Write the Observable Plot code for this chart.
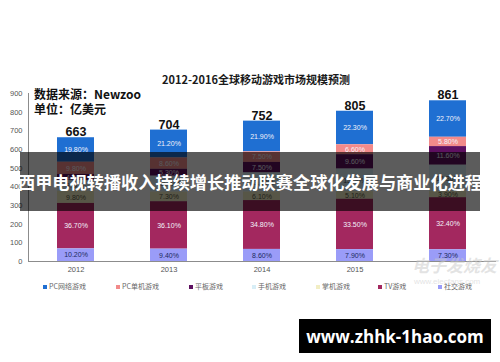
<!DOCTYPE html>
<html><head><meta charset="utf-8">
<script src="https://cdn.jsdelivr.net/npm/d3@7"></script>
<script src="https://cdn.jsdelivr.net/npm/@observablehq/plot@0.6"></script>
<style>
body{margin:0;background:#fff;}
#wrap{position:relative;width:500px;height:362px;overflow:hidden;font-family:"Liberation Sans","Noto Sans CJK SC",sans-serif;background:#fff;}
#wrap svg{position:absolute;left:0;top:0;}
.abs{position:absolute;white-space:nowrap;line-height:1;}
.title{left:162px;top:74px;font-size:11px;font-weight:bold;color:#1a1a1a;font-family:"Noto Sans CJK SC",sans-serif;}
.src{left:34px;font-size:12px;font-weight:bold;color:#111;font-family:"Noto Sans CJK SC",sans-serif;}
.leg{top:283px;font-size:7px;color:#666;font-family:"Noto Sans CJK SC",sans-serif;display:flex;align-items:center;}
.leg i{display:inline-block;width:4px;height:4px;margin-right:2px;}
.banner{left:20px;top:152px;width:460px;height:59px;background:rgba(0,0,0,0.64);color:#fff;font-family:"Noto Sans CJK SC",sans-serif;font-weight:bold;font-size:17.2px;display:flex;align-items:center;justify-content:center;}
.wm{left:299px;top:319px;width:192px;height:34px;background:#000;color:#fff;font-family:"Open Sans","DejaVu Sans",sans-serif;font-weight:bold;font-size:17px;display:flex;align-items:center;justify-content:center;}
.ef{color:rgba(200,200,200,0.5);font-family:"Noto Sans CJK SC",sans-serif;}
</style></head><body><div id="wrap"></div>
<script>
const years = ["2012","2013","2014","2015","2016"];
const totals = [663, 704, 752, 805, 861];
const categories = ["PC网络游戏","PC单机游戏","平板游戏","手机游戏","掌机游戏","TV游戏","社交游戏"];
const colors = ["#1f6fd2","#f28a8a","#5e1060","#d8eef6","#f2eec4","#a3285f","#9a9cf8"];
const pcOnline = [19.8, 21.2, 21.9, 22.3, 22.7];
const pcSingle = [9.8, 8.6, 7.5, 6.6, 5.8];
const tablet = [4.9, 5.3, 7.5, 9.6, 11.6];
const phone = [8.8, 12.1, 13.6, 15.0, 16.3];
const handheld = [9.8, 7.3, 6.1, 5.1, 3.9];
const tv = [36.7, 36.1, 34.8, 33.5, 32.4];
const social = [10.2, 9.4, 8.6, 7.9, 7.3];
const yTicks = [0,100,200,300,400,500,600,700,800,900];

const series = [pcOnline, pcSingle, tablet, phone, handheld, tv, social];
const rows = [];
years.forEach((yr, i) => {
  categories.forEach((c, k) => {
    rows.push({year: yr, cat: c, share: series[k][i], value: totals[i] * series[k][i] / 100});
  });
});
const totRows = years.map((yr, i) => ({year: yr, total: totals[i]}));
const stackOrder = categories.slice().reverse();
const fmt = d => d.share.toFixed(2) + "%";
const labelGroups = [
  {cats: ["PC网络游戏","PC单机游戏","平板游戏","TV游戏"], fill: "#f2f2fa"},
  {cats: ["手机游戏"], fill: "#555"},
  {cats: ["掌机游戏"], fill: "#5a5a4a"},
  {cats: ["社交游戏"], fill: "#1c2a5e"}
];

const font = '"Liberation Sans","Noto Sans CJK SC",sans-serif';
const chart = Plot.plot({
  width: 500, height: 362,
  marginTop: 93, marginBottom: 101, marginLeft: 28, marginRight: 4,
  x: {domain: years, paddingInner: 0.6, paddingOuter: 0.3, label: null},
  y: {domain: [0, 900], label: null},
  color: {domain: categories, range: colors},
  style: {fontFamily: font, background: "transparent", overflow: "visible"},
  marks: [
    Plot.barY(rows, Plot.stackY({x: "year", y: "value", fill: "cat", order: stackOrder})),
    ...labelGroups.map(g => Plot.text(rows, Plot.stackY({
      x: "year", y: "value", z: "cat", order: stackOrder,
      text: d => g.cats.includes(d.cat) ? fmt(d) : null,
      fill: g.fill, fontSize: 7
    }))),
    Plot.text(totRows, {x: "year", y: "total", text: d => String(d.total), lineAnchor: "bottom", dy: -1.5, fontSize: 12.5, fontWeight: "bold", fill: "#111"}),
    Plot.ruleY([0], {stroke: "#8c8c8c"}),
    Plot.frame({anchor: "left", stroke: "#8c8c8c"}),
    Plot.axisY({ticks: yTicks, tickSize: 0, tickPadding: 6, fontSize: 7.5, fill: "#555"}),
    Plot.axisX({tickSize: 0, tickPadding: 5, fontSize: 7.5, fill: "#555", tickFormat: d => d === "2016" ? "" : d})
  ]
});
const wrap = document.getElementById("wrap");
wrap.appendChild(chart);

function add(cls, html, style) {
  const el = document.createElement("div");
  el.className = "abs " + cls;
  el.innerHTML = html;
  if (style) Object.assign(el.style, style);
  wrap.appendChild(el);
  return el;
}
add("title", "2012-2016全球移动游戏市场规模预测");
add("src", "数据来源：Newzoo", {top: "88px"});
add("src", "单位：亿美元", {top: "103px"});
const legX = [43, 116, 189, 252, 316, 378, 438];
categories.forEach((c, k) => {
  add("leg", `<i style="background:${colors[k]}"></i>${c}`, {left: legX[k] + "px"});
});
add("ef", "电子发烧友", {left: "412px", top: "256px", fontSize: "17px", fontStyle: "italic", fontWeight: "bold"});
add("ef", "www.elecfans.com", {left: "414px", top: "278px", fontSize: "8px", fontFamily: "'Liberation Sans',sans-serif"});
add("banner", "西甲电视转播收入持续增长推动联赛全球化发展与商业化进程");
add("wm", "www.zhhk-1hao.com");
</script></body></html>
